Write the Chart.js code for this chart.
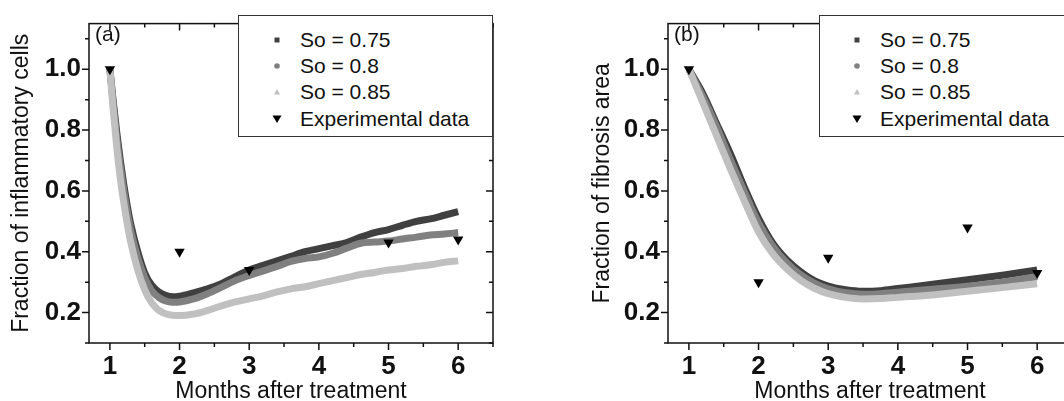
<!DOCTYPE html>
<html lang="en">
<head>
<meta charset="UTF-8">
<title>Inflammatory cells and fibrosis area</title>
<script src="https://cdn.jsdelivr.net/npm/chart.js"></script>
<style>
  html, body { margin: 0; padding: 0; background: #fff; overflow: hidden; }
  body { width: 1064px; height: 401px; position: relative; font-family: "Liberation Sans", Arial, sans-serif; color: #111; }
  canvas { position: absolute; top: 0; }
  #chartA { left: 0; }
  #chartB { left: 579px; }
  .legend { position: absolute; top: 15px; height: 122px; border: 1px solid #333; background: #fff; box-sizing: border-box; }
  .row { position: absolute; height: 26px; line-height: 26px; font-size: 21px; white-space: nowrap; }
  .mk { position: absolute; width: 12px; height: 12px; }
  .panel { position: absolute; top: 23px; font-size: 21px; line-height: 21px; }
</style>
</head>
<body>
<canvas id="chartA" width="532" height="401"></canvas>
<canvas id="chartB" width="532" height="401"></canvas>

<div class="panel" style="left:95px">(a)</div>
<div class="panel" style="left:674px">(b)</div>

<div class="legend" id="legA" style="left:238px; width:255px"></div>
<div class="legend" id="legB" style="left:819px; width:260px"></div>

<script>
// x positions of the model curves (months)
var monthsA = [1.0, 1.05, 1.1, 1.15, 1.2, 1.25, 1.3, 1.4, 1.5, 1.6, 1.7, 1.8, 1.9, 2.0,
               2.2, 2.4, 2.6, 2.8, 3.0, 3.2, 3.4, 3.6, 3.8, 4.0, 4.2, 4.4, 4.6, 4.8,
               5.0, 5.2, 5.4, 5.6, 5.8, 6.0];
var inflamSo075 = [1.0, 0.89, 0.79, 0.70, 0.62, 0.55, 0.49, 0.40, 0.33, 0.29, 0.268, 0.257, 0.252, 0.254,
                   0.265, 0.278, 0.295, 0.318, 0.340, 0.355, 0.370, 0.385, 0.400, 0.410, 0.420, 0.430, 0.448, 0.463,
                   0.473, 0.487, 0.500, 0.508, 0.520, 0.532];
var inflamSo080 = [1.0, 0.88, 0.77, 0.68, 0.60, 0.53, 0.47, 0.38, 0.315, 0.272, 0.250, 0.238, 0.234, 0.235,
                   0.245, 0.262, 0.283, 0.305, 0.322, 0.337, 0.352, 0.368, 0.378, 0.383, 0.395, 0.412, 0.428, 0.432,
                   0.435, 0.442, 0.448, 0.455, 0.458, 0.463];
var inflamSo085 = [1.0, 0.86, 0.74, 0.64, 0.56, 0.49, 0.43, 0.34, 0.275, 0.232, 0.208, 0.196, 0.191, 0.190,
                   0.195, 0.207, 0.222, 0.235, 0.245, 0.255, 0.268, 0.278, 0.285, 0.295, 0.305, 0.315, 0.325, 0.332,
                   0.340, 0.345, 0.352, 0.357, 0.365, 0.370];

var monthsB = [1.0, 1.2, 1.4, 1.6, 1.8, 2.0, 2.2, 2.4, 2.6, 2.8, 3.0, 3.25, 3.5, 3.75, 4.0, 4.5, 5.0, 5.5, 6.0];
var fibroSo075 = [1.0, 0.92, 0.82, 0.72, 0.61, 0.51, 0.43, 0.375, 0.335, 0.305, 0.287, 0.275, 0.270, 0.272, 0.279, 0.293, 0.308, 0.323, 0.340];
var fibroSo080 = [1.0, 0.91, 0.81, 0.70, 0.595, 0.495, 0.42, 0.365, 0.325, 0.297, 0.278, 0.265, 0.260, 0.262, 0.267, 0.277, 0.287, 0.300, 0.318];
var fibroSo085 = [1.0, 0.89, 0.78, 0.67, 0.565, 0.465, 0.395, 0.345, 0.307, 0.280, 0.262, 0.250, 0.245, 0.246, 0.250, 0.258, 0.270, 0.282, 0.295];

// experimental data
var expMonths = [1, 2, 3, 5, 6];
var inflamExp = [1.0, 0.40, 0.34, 0.43, 0.44];
var fibroExp  = [1.0, 0.30, 0.38, 0.48, 0.33];

var seriesNames = ['So = 0.75', 'So = 0.8', 'So = 0.85', 'Experimental data'];
var xTicks = [1, 2, 3, 4, 5, 6];
var xMinor = [1.5, 2.5, 3.5, 4.5, 5.5, 6.5];
var yTicks = [0.2, 0.4, 0.6, 0.8, 1.0];
var yMinor = [0.1, 0.3, 0.5, 0.7, 0.9, 1.1];

var colors = ['#404040', '#808080', '#c0c0c0', '#000000'];

function pts(xs, ys) {
    return xs.map(function (x, i) { return { x: x, y: ys[i] }; });
}

// box around the plot with Origin-style ticks (out on left/bottom, in on right/top)
var framePlugin = {
    id: 'frame',
    afterDatasetsDraw: function (chart) {
        var ctx = chart.ctx, a = chart.chartArea, sx = chart.scales.x, sy = chart.scales.y;
        ctx.save();
        ctx.strokeStyle = '#111';
        ctx.lineWidth = 1.5;
        ctx.strokeRect(a.left, a.top, a.right - a.left, a.bottom - a.top);
        ctx.beginPath();
        function seg(x1, y1, x2, y2) { ctx.moveTo(x1, y1); ctx.lineTo(x2, y2); }
        yTicks.forEach(function (v) {
            var p = sy.getPixelForValue(v);
            seg(a.left - 7, p, a.left, p); seg(a.right - 7, p, a.right, p);
        });
        yMinor.forEach(function (v) {
            var p = sy.getPixelForValue(v);
            seg(a.left - 4, p, a.left, p); seg(a.right - 4, p, a.right, p);
        });
        xTicks.forEach(function (v) {
            var p = sx.getPixelForValue(v);
            seg(p, a.bottom, p, a.bottom + 7); seg(p, a.top, p, a.top + 7);
        });
        xMinor.forEach(function (v) {
            var p = sx.getPixelForValue(v);
            seg(p, a.bottom, p, a.bottom + 4); seg(p, a.top, p, a.top + 4);
        });
        ctx.stroke();
        ctx.restore();
    }
};

function makeChart(id, xs, s1, s2, s3, exp, yTitle, titlePad) {
    var curve = function (label, data, color, order) {
        return {
            label: label, data: pts(xs, data), borderColor: color, backgroundColor: color,
            borderWidth: 7, pointRadius: 0, showLine: true, cubicInterpolationMode: 'monotone',
            borderCapStyle: 'butt', order: order
        };
    };
    return new Chart(document.getElementById(id), {
        type: 'scatter',
        data: {
            datasets: [
                curve(seriesNames[0], s1, colors[0], 4),
                curve(seriesNames[1], s2, colors[1], 3),
                curve(seriesNames[2], s3, colors[2], 2),
                {
                    label: seriesNames[3], data: pts(expMonths, exp),
                    pointStyle: 'triangle', rotation: 180, pointRadius: 6,
                    backgroundColor: '#000', borderColor: '#000', borderWidth: 0, order: 1
                }
            ]
        },
        options: {
            responsive: false,
            animation: false,
            layout: { padding: { left: 0, right: 39, top: 15, bottom: 0 } },
            plugins: { legend: { display: false }, tooltip: { enabled: false } },
            scales: {
                x: {
                    type: 'linear', min: 0.7, max: 6.5,
                    grid: { display: false, drawTicks: false },
                    border: { display: false },
                    afterBuildTicks: function (s) { s.ticks = xTicks.map(function (v) { return { value: v }; }); },
                    afterFit: function (s) { s.height = 58; },
                    ticks: {
                        padding: 8, color: '#111', maxRotation: 0,
                        font: { family: 'Liberation Sans', size: 26, weight: 'bold' },
                        callback: function (v) { return String(v); }
                    },
                    title: {
                        display: true, text: 'Months after treatment', color: '#111',
                        font: { family: 'Liberation Sans', size: 23, lineHeight: 1 },
                        padding: { top: 0, bottom: -2 }
                    }
                },
                y: {
                    type: 'linear', min: 0.1, max: 1.15,
                    grid: { display: false, drawTicks: false },
                    border: { display: false },
                    afterBuildTicks: function (s) { s.ticks = yTicks.map(function (v) { return { value: v }; }); },
                    afterFit: function (s) { s.width = 89; },
                    ticks: {
                        padding: 8, color: '#111',
                        font: { family: 'Liberation Sans', size: 26, weight: 'bold' },
                        callback: function (v) { return v.toFixed(1); }
                    },
                    title: {
                        display: true, text: yTitle, color: '#111',
                        font: { family: 'Liberation Sans', size: 23, lineHeight: 1 },
                        padding: { top: titlePad, bottom: 0 }
                    }
                }
            }
        },
        plugins: [framePlugin]
    });
}

makeChart('chartA', monthsA, inflamSo075, inflamSo080, inflamSo085, inflamExp, 'Fraction of inflammatory cells', 10);
makeChart('chartB', monthsB, fibroSo075, fibroSo080, fibroSo085, fibroExp, 'Fraction of fibrosis area', 12);

// legends (HTML, drawn over the plot like in the figure)
var markers = [
    '<svg class="mk" viewBox="0 0 12 12"><rect x="3.5" y="3.5" width="5" height="5" fill="#404040"/></svg>',
    '<svg class="mk" viewBox="0 0 12 12"><circle cx="6" cy="6" r="2.8" fill="#808080"/></svg>',
    '<svg class="mk" viewBox="0 0 12 12"><polygon points="6,3 9,8.5 3,8.5" fill="#c0c0c0"/></svg>',
    '<svg class="mk" viewBox="0 0 12 12"><polygon points="1.5,2.5 10.5,2.5 6,10" fill="#000"/></svg>'
];
var rowCenters = [24, 50, 75.5, 103];

function fillLegend(id, markerX, textX) {
    var el = document.getElementById(id);
    var html = '';
    seriesNames.forEach(function (name, i) {
        var top = rowCenters[i] - 13;
        html += '<div class="row" style="left:0; top:' + top + 'px; width:100%">' +
            '<span style="position:absolute; left:' + (markerX - 6) + 'px; top:7px">' + markers[i] + '</span>' +
            '<span style="position:absolute; left:' + textX + 'px">' + name + '</span></div>';
    });
    el.innerHTML = html;
}
fillLegend('legA', 38, 61);
fillLegend('legB', 37, 60);
</script>
</body>
</html>
